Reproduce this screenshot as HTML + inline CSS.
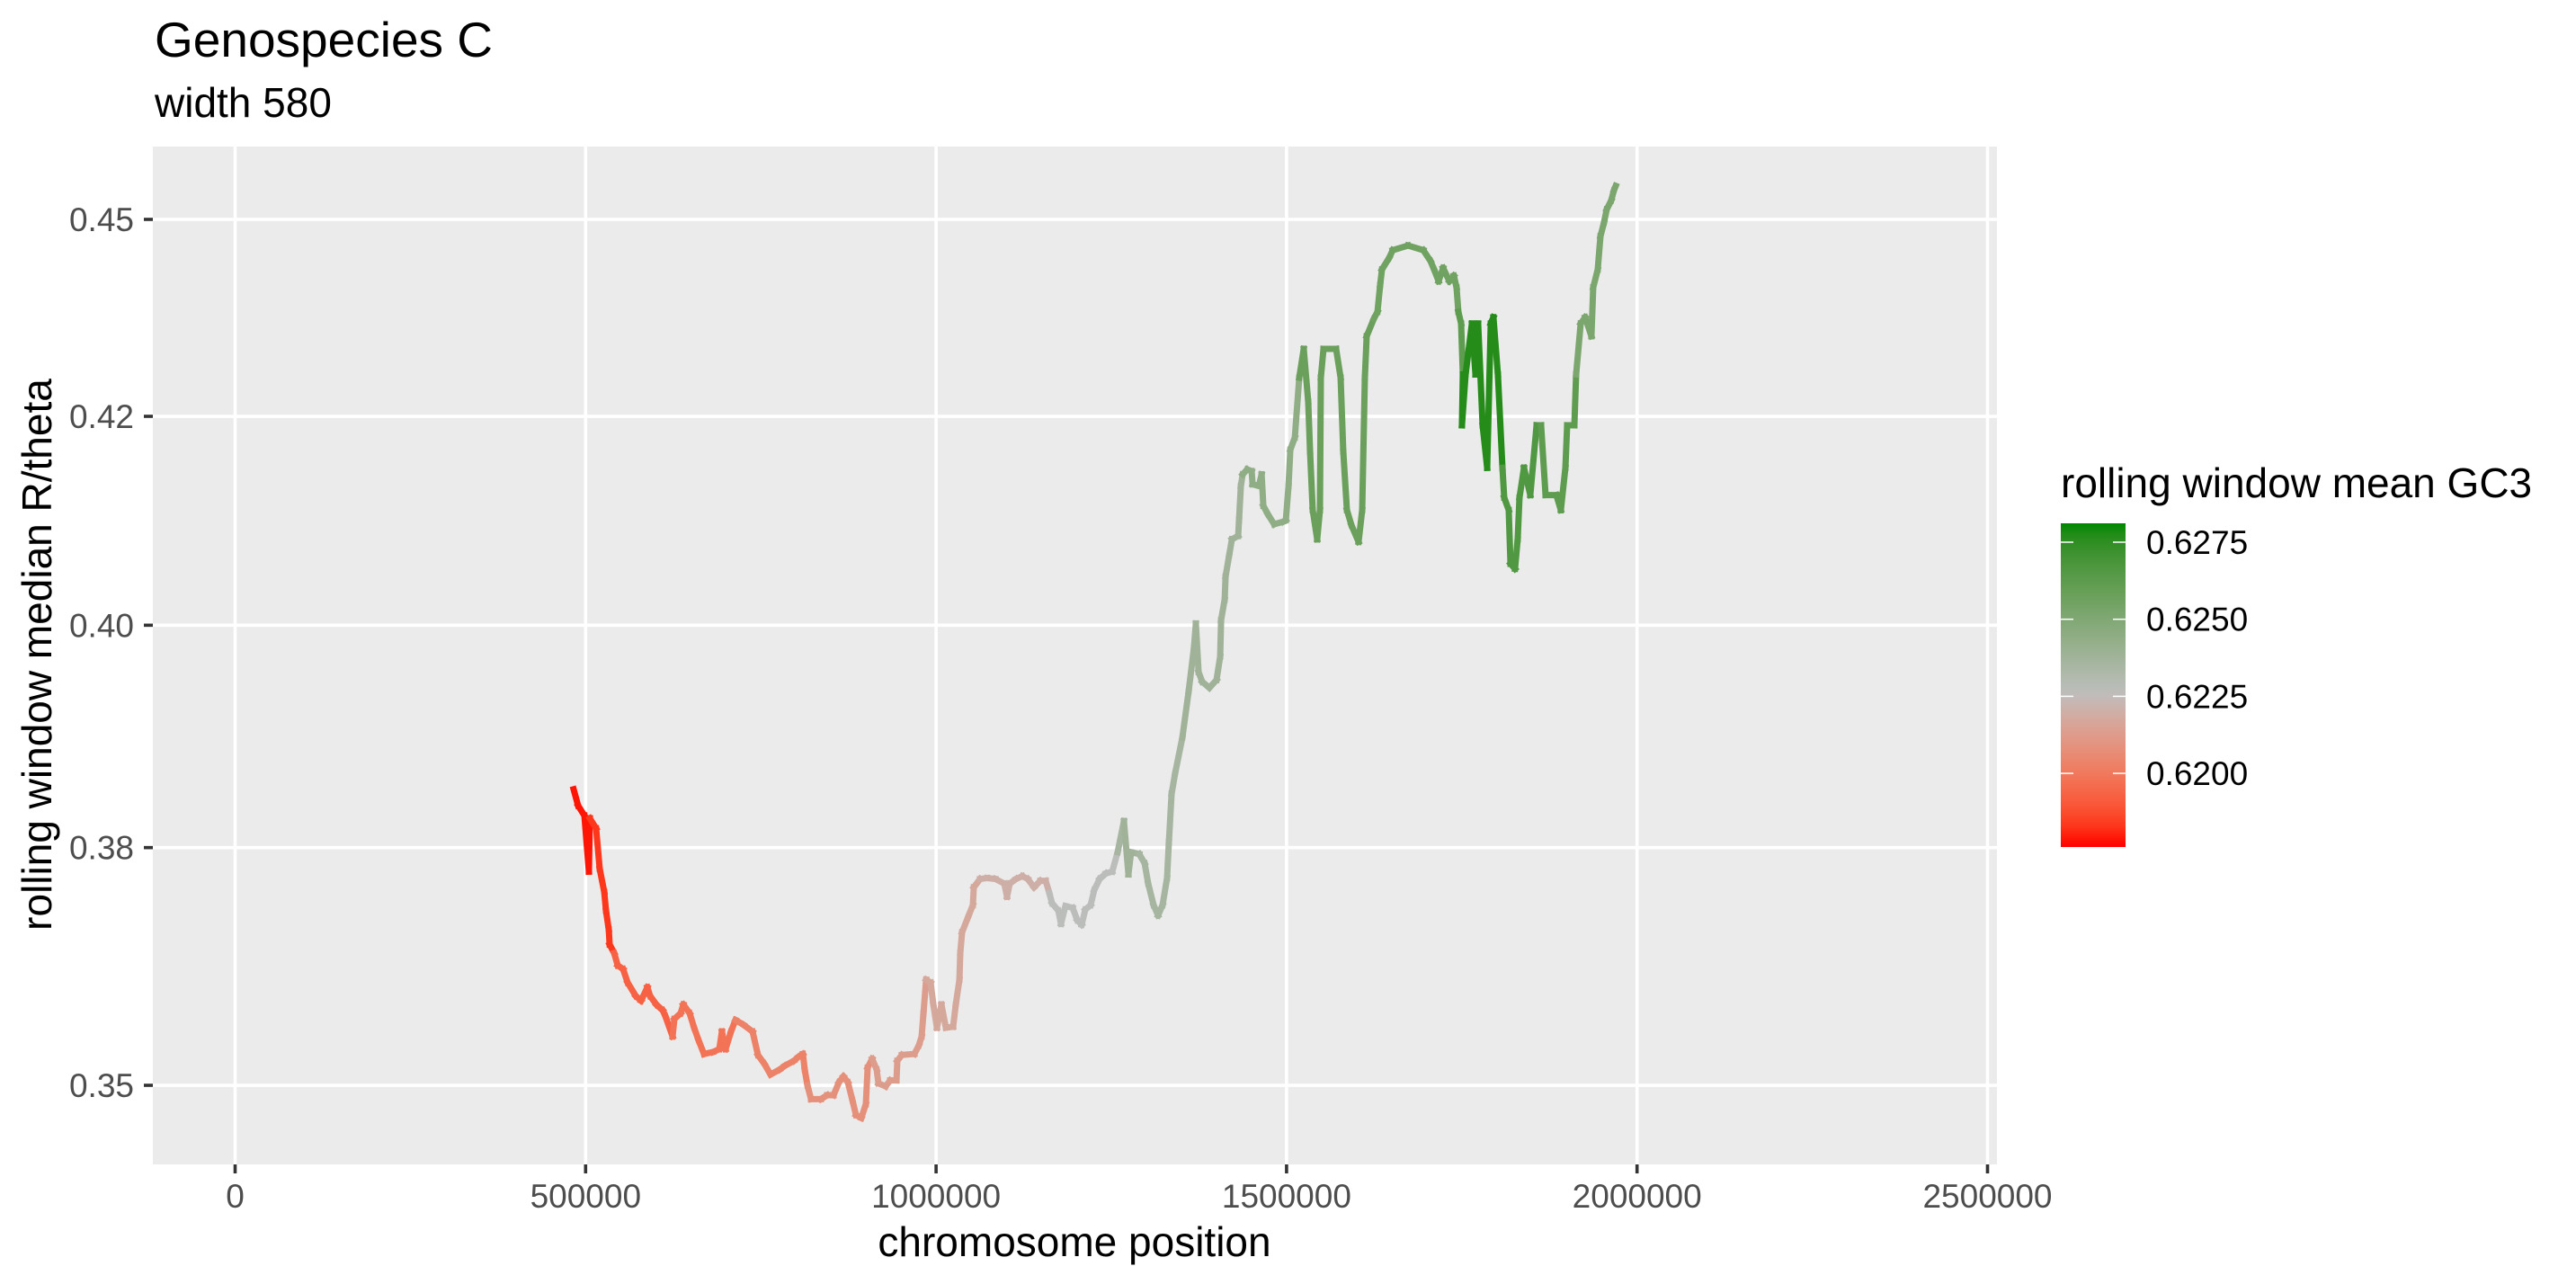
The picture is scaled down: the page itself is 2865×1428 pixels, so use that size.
<!DOCTYPE html>
<html><head><meta charset="utf-8"><title>Genospecies C</title>
<style>
html,body{margin:0;padding:0;background:#fff;}
svg{display:block;font-family:"Liberation Sans",Arial,sans-serif;}
</style></head>
<body>
<svg id="chart" width="2865" height="1428" viewBox="0 0 2865 1428" xmlns="http://www.w3.org/2000/svg">
<defs>
<linearGradient id="legendGrad" x1="0" y1="1" x2="0" y2="0"></linearGradient>
</defs>
<rect x="0" y="0" width="2865" height="1428" fill="#ffffff"/>
<text x="172" y="63" font-size="55" fill="#000">Genospecies C</text>
<text x="172" y="130" font-size="46" fill="#000">width 580</text>
<rect x="170" y="163" width="2051" height="1132" fill="#EBEBEB"/>
<g id="grid"></g>
<g id="series"></g>
<g id="axes"></g>
<text x="1195" y="1397" font-size="46" text-anchor="middle" fill="#000">chromosome position</text>
<text transform="translate(57,728) rotate(-90)" font-size="46" text-anchor="middle" fill="#000">rolling window median R/theta</text>
<g id="legend">
<text x="2292" y="553" font-size="46" fill="#000">rolling window mean GC3</text>
</g>
</svg>
<script>
const xTicks = [0, 500000, 1000000, 1500000, 2000000, 2500000];
const xTickLabels = ["0", "500000", "1000000", "1500000", "2000000", "2500000"];
const yTicks = [0.35, 0.375, 0.40, 0.425, 0.45];
const yTickLabels = ["0.35", "0.38", "0.40", "0.42", "0.45"];
const legendTicks = [0.6200, 0.6225, 0.6250, 0.6275];
const legendTickLabels = ["0.6200", "0.6225", "0.6250", "0.6275"];
const gcMin = 0.6178, gcMid = 0.6226, gcMax = 0.6281;

// positions in kb
const positionsKb = [
482.9,489.3,498.3,504.7,506.0,515.0,520.1,526.6,529.1,533.0,
534.3,540.7,545.8,553.5,559.9,571.5,579.1,588.1,592.0,601.0,
610.0,613.8,624.1,626.6,635.6,639.4,648.4,654.8,661.2,668.9,
681.7,690.7,694.5,699.7,707.4,713.8,725.3,738.2,745.9,754.9,
763.8,776.7,784.4,797.2,803.6,810.0,812.6,816.5,821.6,835.7,
844.7,853.7,861.4,867.8,874.2,880.6,885.7,893.4,899.8,902.4,
908.8,915.2,917.8,928.1,934.5,943.5,944.7,951.2,969.1,975.5,
979.4,982.0,985.8,992.2,996.1,1001.2,1007.6,1014.0,1024.3,1028.1,
1033.3,1034.5,1037.1,1046.1,1052.5,1053.8,1062.8,1073.0,1084.6,1097.4,
1101.2,1105.1,1114.1,1123.1,1130.8,1139.7,1148.7,1156.4,1161.5,1165.4,
1174.4,1178.2,1184.6,1194.9,1201.3,1207.7,1212.8,1220.5,1225.6,1233.3,
1242.3,1251.3,1259.0,1268.0,1274.4,1278.2,1289.8,1297.5,1302.6,1310.3,
1316.7,1323.1,1329.5,1332.1,1336.0,1341.1,1351.4,1360.3,1368.0,1370.6,
1374.5,1379.6,1389.9,1400.1,1405.3,1406.6,1411.7,1413.0,1418.1,1422.0,
1430.9,1432.2,1434.8,1437.4,1443.8,1450.2,1451.5,1460.5,1464.4,1466.9,
1473.3,1482.3,1495.1,1499.0,1502.8,1505.4,1511.8,
1518.1,1524.5,1530.9,1533.5,1537.3,1543.7,1547.6,1548.9,1552.7,1570.7,
1577.1,1580.9,1586.1,1592.5,1602.7,1607.9,1611.7,1614.3,1624.5,1629.7,
1633.5,1636.1,1646.3,1651.5,1673.3,1695.1,1705.3,1710.5,1716.9,1723.3,
1732.3,1738.7,1742.5,1745.1,1749.0,1751.5,1750.2,1755.4,1764.4,1769.5,
1773.3,1779.7,1786.2,1791.3,1795.1,1801.5,1808.0,1810.5,1816.9,1819.5,
1825.9,1829.7,1832.3,1838.7,1847.7,1856.7,1863.1,1869.5,1884.9,1891.3,
1897.8,1900.3,1910.6,1913.1,1919.6,1926.0,1934.9,1937.5,1943.9,1947.8,
1952.9,1956.7,1963.2,1967.0,1969.6
];
const rTheta = [
.3814,.3796,.3785,.3724,.3782,.3771,.3727,.3702,.3682,.3662,
.3646,.3637,.3624,.3620,.3606,.3592,.3587,.3601,.3592,.3583,
.3577,.3571,.3550,.3568,.3574,.3583,.3574,.3559,.3546,.3532,
.3534,.3537,.3555,.3537,.3555,.3567,.3562,.3555,.3531,.3522,
.3511,.3516,.3520,.3525,.3529,.3532,.3516,.3500,.3486,.3486,
.3490,.3490,.3503,.3509,.3503,.3485,.3470,.3467,.3481,.3518,
.3527,.3516,.3502,.3499,.3505,.3505,.3525,.3531,.3532,.3541,
.3550,.3574,.3609,.3606,.3583,.3559,.3583,.3559,.3560,.3583,
.3609,.3637,.3659,.3676,.3688,.3707,.3716,.3717,.3716,.3711,
.3697,.3711,.3716,.3719,.3716,.3707,.3714,.3714,.3701,.3690,
.3682,.3668,.3687,.3685,.3672,.3667,.3683,.3688,.3704,.3716,
.3722,.3724,.3745,.3779,.3721,.3745,.3743,.3733,.3711,.3688,
.3677,.3688,.3717,.3756,.3809,.3832,.3872,.3924,.3975,.4002,
.3946,.3935,.3928,.3937,.3964,.4006,.4030,.4057,.4082,.4101,
.4105,.4124,.4165,.4179,.4185,.4183,.4167,.4165,.4179,.4141,
.4131,.4119,.4122,.4124,.4165,.4209,.4224,
.4298,.4334,.4268,.4207,.4136,.4101,.4136,.4298,.4334,.4334,
.4298,.4207,.4136,.4118,.4098,.4136,.4298,.4350,.4372,.4381,
.4415,.4435,.4450,.4460,.4466,.4460,.4446,.4435,.4420,.4437,
.4420,.4427,.4412,.4381,.4366,.4302,.4239,.4302,.4366,.4302,
.4366,.4239,.4187,.4366,.4374,.4302,.4187,.4151,.4136,.4072,
.4066,.4101,.4151,.4187,.4154,.4239,.4239,.4154,.4154,.4136,
.4187,.4239,.4239,.4302,.4366,.4374,.4350,.4412,.4435,.4478,
.4496,.4513,.4525,.4538,.4544
];
const gc3 = [
.6179,.6179,.6179,.6179,.6183,.6183,.6183,.6183,.6183,.6183,
.6183,.6193,.6193,.6193,.6193,.6193,.6193,.6193,.6193,.6193,
.6193,.6193,.6198,.6198,.6198,.6198,.6198,.6198,.6198,.6198,
.6198,.6198,.6198,.6198,.6198,.6203,.6203,.6203,.6203,.6203,
.6203,.6203,.6203,.6203,.6203,.6203,.6203,.6208,.6208,.6208,
.6208,.6208,.6208,.6208,.6208,.6208,.6208,.6208,.6208,.6208,
.6213,.6213,.6213,.6213,.6213,.6213,.6213,.6213,.6213,.6213,
.6213,.6213,.6217,.6217,.6217,.6217,.6217,.6217,.6217,.6217,
.6217,.6217,.6217,.6217,.6217,.6217,.6220,.6220,.6220,.6220,
.6220,.6220,.6220,.6220,.6220,.6220,.6220,.6220,.6227,.6227,
.6227,.6227,.6227,.6227,.6227,.6227,.6227,.6227,.6227,.6227,
.6227,.6227,.6236,.6238,.6238,.6238,.6236,.6236,.6236,.6236,
.6236,.6236,.6236,.6236,.6236,.6236,.6238,.6238,.6238,.6238,
.6238,.6238,.6238,.6238,.6238,.6238,.6238,.6238,.6238,.6238,
.6238,.6238,.6238,.6244,.6244,.6244,.6244,.6244,.6244,.6244,
.6244,.6244,.6244,.6244,.6244,.6244,.6244,
.6258,.6258,.6258,.6258,.6258,.6258,.6258,.6258,.6258,.6258,
.6258,.6258,.6258,.6258,.6258,.6258,.6258,.6258,.6256,.6256,
.6256,.6256,.6256,.6256,.6256,.6256,.6256,.6256,.6256,.6256,
.6256,.6256,.6256,.6262,.6262,.6277,.6277,.6277,.6277,.6277,
.6277,.6277,.6277,.6277,.6277,.6277,.6266,.6266,.6266,.6266,
.6266,.6266,.6266,.6266,.6266,.6266,.6262,.6262,.6262,.6262,
.6262,.6262,.6262,.6252,.6252,.6252,.6252,.6252,.6252,.6252,
.6252,.6252,.6252,.6252,.6252
];

const NS = "http://www.w3.org/2000/svg";
const PX0 = 261.5, PX_PER_500K = 389.8;
const Y045 = 244, YK = 3832;
const panel = {x0:170, x1:2221, y0:163, y1:1295};
function xScale(bp){ return PX0 + bp / 500000 * PX_PER_500K; }
function yScale(v){ return Y045 + (Math.log(0.45) - Math.log(v)) * YK; }
const legTop = 603, legStep = 85.7;
function legendY(v){ return legTop + (0.6275 - v) / 0.0025 * legStep; }

// Lab colour interpolation
function srgbToLin(c){ c/=255; return c<=0.04045?c/12.92:Math.pow((c+0.055)/1.055,2.4); }
function linToSrgb(c){ c = c<=0.0031308?12.92*c:1.055*Math.pow(c,1/2.4)-0.055; return Math.round(Math.max(0,Math.min(1,c))*255); }
const WX=0.95047, WY=1.0, WZ=1.08883;
function f(t){ return t>0.008856?Math.cbrt(t):7.787*t+16/116; }
function finv(t){ return t>0.206893?t*t*t:(t-16/116)/7.787; }
function toLab(rgb){
  const r=srgbToLin(rgb[0]), g=srgbToLin(rgb[1]), b=srgbToLin(rgb[2]);
  const X=(0.4124*r+0.3576*g+0.1805*b)/WX, Y=(0.2126*r+0.7152*g+0.0722*b)/WY, Z=(0.0193*r+0.1192*g+0.9505*b)/WZ;
  const fx=f(X), fy=f(Y), fz=f(Z);
  return [116*fy-16, 500*(fx-fy), 200*(fy-fz)];
}
function fromLab(lab){
  const fy=(lab[0]+16)/116, fx=fy+lab[1]/500, fz=fy-lab[2]/200;
  const X=finv(fx)*WX, Y=finv(fy)*WY, Z=finv(fz)*WZ;
  const r=3.2406*X-1.5372*Y-0.4986*Z, g=-0.9689*X+1.8758*Y+0.0415*Z, b=0.0557*X-0.2040*Y+1.0570*Z;
  return [linToSrgb(r),linToSrgb(g),linToSrgb(b)];
}
const labLow=toLab([255,0,0]), labMid=toLab([190,190,190]), labHigh=toLab([0,136,0]);
function mixLab(a,b,t){ return fromLab([0,1,2].map(i=>a[i]+(b[i]-a[i])*t)); }
function colorFor(g){
  let c;
  if (g <= gcMid){ const t=Math.max(0,Math.min(1,(g-gcMin)/(gcMid-gcMin))); c=mixLab(labLow,labMid,t); }
  else { const t=Math.max(0,Math.min(1,(g-gcMid)/(gcMax-gcMid))); c=mixLab(labMid,labHigh,t); }
  return "rgb("+c.join(",")+")";
}
function mk(tag, attrs, parent){
  const el=document.createElementNS(NS,tag);
  for (const k in attrs) el.setAttribute(k, attrs[k]);
  parent.appendChild(el); return el;
}

const grid=document.getElementById("grid");
xTicks.forEach((t,i)=>{
  const x=xScale(t);
  const l=mk("line",{x1:x,x2:x,y1:panel.y0,y2:panel.y1,stroke:"#fff","stroke-width":3.6},grid);
  
  
});
yTicks.forEach((t,i)=>{
  const y=yScale(t);
  const l=mk("line",{x1:panel.x0,x2:panel.x1,y1:y,y2:y,stroke:"#fff","stroke-width":3.6},grid);
  
  
});

const series=document.getElementById("series");
for (let i=0;i<positionsKb.length-1;i++){
  const seg=mk("line",{
    x1:xScale(positionsKb[i]*1000), y1:yScale(rTheta[i]),
    x2:xScale(positionsKb[i+1]*1000), y2:yScale(rTheta[i+1]),
    stroke:colorFor(gc3[i]), "stroke-width":7, "stroke-linecap":"square"
  },series);
  
  
}

const axes=document.getElementById("axes");
xTicks.forEach((t,i)=>{
  const x=xScale(t);
  const tk=mk("line",{x1:x,x2:x,y1:panel.y1,y2:panel.y1+10,stroke:"#333","stroke-width":3.6},axes);
  
  
  const lb=mk("text",{x:x,y:1343,"font-size":37,fill:"#4D4D4D","text-anchor":"middle"},axes);
  lb.textContent=xTickLabels[i];
  
  
});
yTicks.forEach((t,i)=>{
  const y=yScale(t);
  const tk=mk("line",{x1:panel.x0-10,x2:panel.x0,y1:y,y2:y,stroke:"#333","stroke-width":3.6},axes);
  
  
  const lb=mk("text",{x:149,y:y+13,"font-size":37,fill:"#4D4D4D","text-anchor":"end"},axes);
  lb.textContent=yTickLabels[i];
  
  
});

// legend
const legend=document.getElementById("legend");
const grad=document.getElementById("legendGrad");
const barTop=582, barBot=942;
const vTop = 0.6275 + (legTop-barTop)/legStep*0.0025;
const vBot = 0.6275 - (barBot-legTop)/legStep*0.0025;
for (let k=0;k<=30;k++){
  const v=vBot+(vTop-vBot)*k/30;
  mk("stop",{offset:(k/30),"stop-color":colorFor(v)},grad);
}
const bar=mk("rect",{x:2292,y:barTop,width:72,height:barBot-barTop,fill:"url(#legendGrad)"},legend);


legendTicks.forEach((t,i)=>{
  const y=legendY(t);
  const a=mk("line",{x1:2292,x2:2306,y1:y,y2:y,stroke:"#fff","stroke-width":1.5},legend);
  
  
  const b=mk("line",{x1:2350,x2:2364,y1:y,y2:y,stroke:"#fff","stroke-width":1.5},legend);
  
  
  const lb=mk("text",{x:2387,y:y+13,"font-size":37,fill:"#000"},legend);
  lb.textContent=legendTickLabels[i];
  
  
});
</script>
</body></html>
